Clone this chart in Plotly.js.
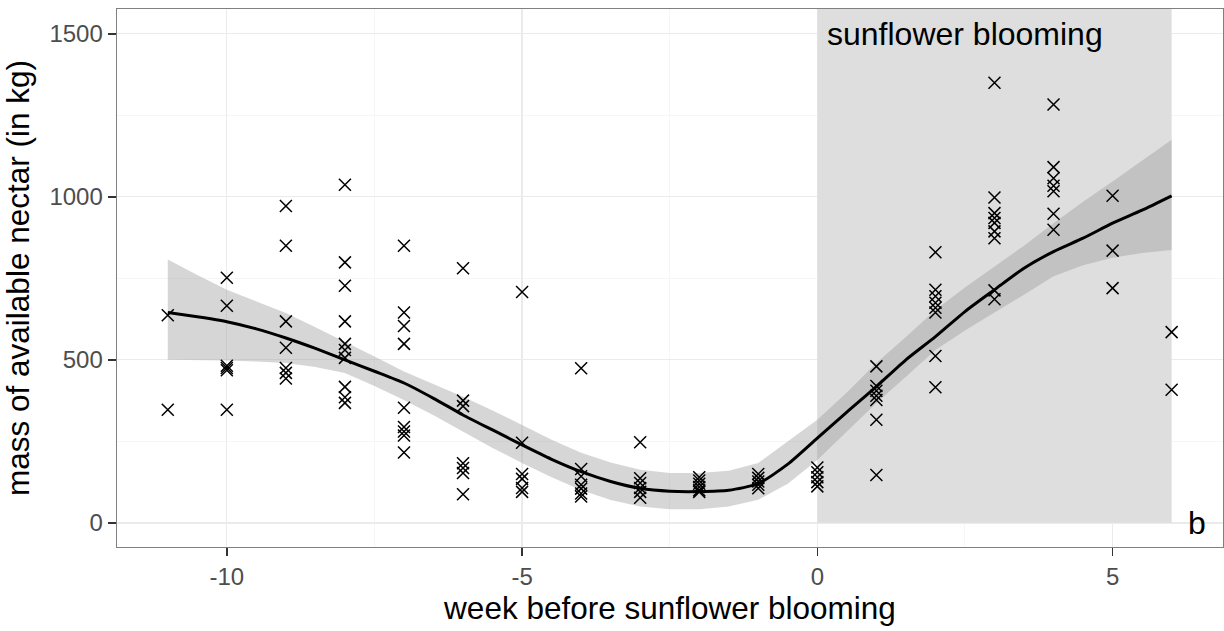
<!DOCTYPE html>
<html>
<head>
<meta charset="utf-8">
<script src="https://cdn.plot.ly/plotly-3.0.1.min.js"></script>
<style>html,body{margin:0;padding:0;background:#fff;}#chart{width:1224px;height:631px;}</style>
</head>
<body>
<div id="chart"></div>
<script>
// observed points: week before sunflower blooming, mass of available nectar (kg)
const pointWeek = [
  -11,-11,
  -10,-10,-10,-10,-10,-10,
  -9,-9,-9,-9,-9,-9,-9,
  -8,-8,-8,-8,-8,-8,-8,-8,-8,-8,
  -7,-7,-7,-7,-7,-7,-7,-7,-7,
  -6,-6,-6,-6,-6,-6,-6,
  -5,-5,-5,-5,-5,-5,
  -4,-4,-4,-4,-4,-4,-4,
  -3,-3,-3,-3,-3,-3,
  -2,-2,-2,-2,-2,-2,
  -1,-1,-1,-1,-1,
  0,0,0,0,0,
  1,1,1,1,1,1,1,
  2,2,2,2,2,2,2,2,
  3,3,3,3,3,3,3,3,3,
  4,4,4,4,4,4,4,
  5,5,5,
  6,6
];
const pointMass = [
  637,347,
  752,666,482,475,468,347,
  972,850,618,537,475,460,443,
  1037,799,727,618,549,530,506,417,385,368,
  850,645,604,549,353,294,280,268,216,
  781,375,358,183,168,153,88,
  708,246,150,135,107,95,
  474,165,143,117,105,90,81,
  247,137,122,107,95,77,
  140,130,120,110,100,95,
  150,138,127,117,106,
  170,155,140,125,112,
  480,420,405,390,377,316,147,
  830,715,695,675,660,645,512,416,
  1350,998,950,935,920,894,873,713,686,
  1283,1091,1057,1034,1017,948,899,
  1003,835,720,
  585,408
];
// smoothed curve and its confidence band
const smoothWeek = [-11,-10.5,-10,-9.5,-9,-8.5,-8,-7.5,-7,-6.5,-6,-5.5,-5,-4.5,-4,-3.5,-3,-2.5,-2,-1.5,-1,-0.5,0,0.5,1,1.5,2,2.5,3,3.5,4,4.5,5,5.5,6];
const smoothFit  = [645,632,617,595,567,535,500,465,429,382,331,285,239,195,157,127,106,97,96,100,120,180,260,340,418,500,571,648,715,781,832,873,919,959,1003];
const smoothUpper= [808,760,715,680,644,600,556,510,464,425,387,345,300,255,215,185,163,153,153,160,184,250,316,400,490,570,653,722,786,850,919,985,1047,1110,1175];
const smoothLower= [500,500,498,495,490,478,460,420,377,330,280,230,184,140,101,70,50,42,42,50,71,120,193,280,368,448,530,590,644,700,756,790,813,828,837];
// blooming period and labels
const bloomStart = 0, bloomEnd = 6;
const xTicks = [-10,-5,0,5];
const yTicks = [0,500,1000,1500];
const xMinor = [-7.5,-2.5,2.5];
const yMinor = [250,750,1250];
const bloomLabel = "sunflower blooming";
const panelLabel = "b";

const FONT = "Liberation Sans, Arial, sans-serif";
const xRange = [-11.86, 6.87];
const yRange = [-74, 1576];

const traces = [
  {x: smoothWeek, y: smoothLower, type:'scatter', mode:'lines', line:{width:0, color:'rgba(0,0,0,0)'}, hoverinfo:'skip', showlegend:false},
  {x: smoothWeek, y: smoothUpper, type:'scatter', mode:'lines', line:{width:0, color:'rgba(0,0,0,0)'}, fill:'tonexty', fillcolor:'rgba(153,153,153,0.4)', hoverinfo:'skip', showlegend:false},
  {x: pointWeek, y: pointMass, type:'scatter', mode:'markers', marker:{symbol:'x-thin-open', size:12, color:'#000', line:{width:1.5, color:'#000'}}, showlegend:false},
  {x: smoothWeek, y: smoothFit, type:'scatter', mode:'lines', line:{width:3, color:'#000', shape:'spline', smoothing:0.6}, showlegend:false}
];

const layout = {
  width:1224, height:631,
  margin:{l:117, r:1.3, t:8.5, b:83.7, pad:0},
  paper_bgcolor:'#fff', plot_bgcolor:'#fff',
  showlegend:false, hovermode:false,
  font:{family:FONT, color:'#000'},
  xaxis:{
    range:xRange, tickmode:'array', tickvals:xTicks, ticktext:xTicks.map(String),
    showgrid:true, gridcolor:'#ebebeb', gridwidth:1.3, zeroline:false,
    minor:{tickmode:'array', tickvals:xMinor, showgrid:true, gridcolor:'#f6f6f6', gridwidth:1, ticks:''},
    showline:true, mirror:true, linecolor:'#808080', linewidth:1.4,
    ticks:'outside', ticklen:8, tickwidth:1.6, tickcolor:'#333',
    tickfont:{size:24, color:'#4d4d4d', family:FONT},
    title:{text:'week before sunflower blooming', font:{size:31.5, color:'#000', family:FONT}, standoff:6},
    automargin:false, fixedrange:true
  },
  yaxis:{
    range:yRange, tickmode:'array', tickvals:yTicks, ticktext:yTicks.map(String),
    showgrid:true, gridcolor:'#ebebeb', gridwidth:1.3, zeroline:false,
    minor:{tickmode:'array', tickvals:yMinor, showgrid:true, gridcolor:'#f6f6f6', gridwidth:1, ticks:''},
    showline:true, mirror:true, linecolor:'#808080', linewidth:1.4,
    ticks:'outside', ticklen:8, tickwidth:1.6, tickcolor:'#333',
    tickfont:{size:24, color:'#4d4d4d', family:FONT},
    title:{text:'mass of available nectar (in kg)', font:{size:31.5, color:'#000', family:FONT}, standoff:10},
    automargin:false, fixedrange:true
  },
  shapes:[
    {type:'rect', xref:'x', yref:'y', x0:bloomStart, x1:bloomEnd, y0:0, y1:yRange[1], fillcolor:'#dedede', line:{width:0}, layer:'between'}
  ],
  annotations:[
    {x:2.5, y:1500, xref:'x', yref:'y', text:bloomLabel, showarrow:false, xanchor:'center', yanchor:'middle', font:{size:32, color:'#000', family:FONT}},
    {x:6.43, y:0, xref:'x', yref:'y', text:panelLabel, showarrow:false, xanchor:'center', yanchor:'middle', font:{size:32, color:'#000', family:FONT}}
  ]
};

Plotly.newPlot('chart', traces, layout, {displayModeBar:false, staticPlot:true});
</script>
</body>
</html>
